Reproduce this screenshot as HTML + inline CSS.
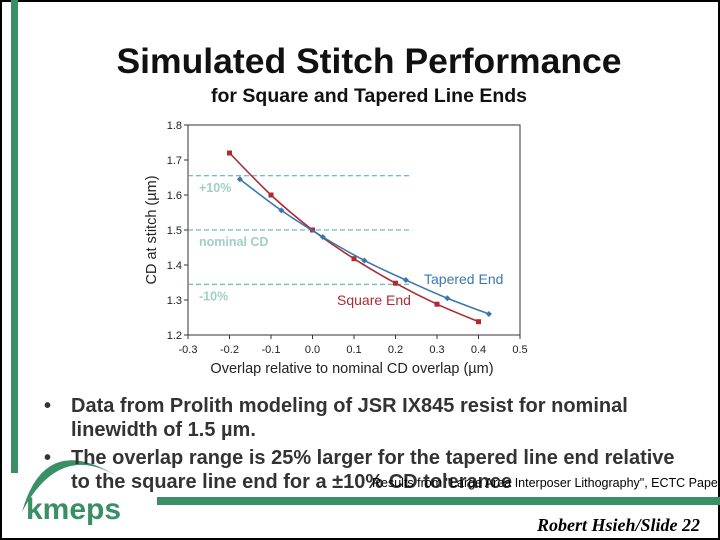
<!DOCTYPE html>
<html><head><meta charset="utf-8"><style>
body{margin:0;width:720px;height:540px;overflow:hidden;background:#fff;font-family:"Liberation Sans",sans-serif}
#slide{position:absolute;left:0;top:0;width:716px;height:536px;border:2px solid #000;background:#fff}
.t{position:absolute;white-space:nowrap;color:#111}
.b{position:absolute;font-size:20px;font-weight:bold;color:#333;white-space:nowrap;line-height:24px}
</style></head><body>
<div id="slide"></div>
<div style="position:absolute;left:11px;top:0;width:7px;height:473px;background:#3a8f64"></div>
<div style="position:absolute;left:157px;top:497px;width:563px;height:8px;background:#3a8f64"></div>
<div class="t" style="left:0;width:738px;text-align:center;top:41px;font-size:35.5px;font-weight:bold">Simulated Stitch Performance</div>
<div class="t" style="left:0;width:738px;text-align:center;top:85px;font-size:19.5px;font-weight:bold">for Square and Tapered Line Ends</div>
<svg width="720" height="540" style="position:absolute;left:0;top:0">
<g id="g"></g>
<path d="M22,512 Q45,430 120,478 Q60,440 22,512Z" fill="#3a8f64"/>
</svg>
<div class="b" style="left:44px;top:394px">•</div>
<div class="b" style="left:71px;top:394px">Data from Prolith modeling of JSR IX845 resist for nominal<br>linewidth of 1.5 µm.</div>
<div class="b" style="left:44px;top:446px">•</div>
<div class="b" style="left:71px;top:446px">The overlap range is 25% larger for the tapered line end relative<br>to the square line end for a ±10% CD tolerance</div>
<div class="t" style="left:372px;top:476px;font-size:12.5px;color:#000">Results from "Large Area Interposer Lithography", ECTC Paper</div>
<div class="t" style="left:26px;top:493px;font-size:30px;font-weight:bold;color:#3a8f64">kmeps</div>
<div class="t" style="left:537px;top:515px;font-size:18px;font-weight:bold;font-style:italic;font-family:'Liberation Serif',serif;color:#000">Robert Hsieh/Slide 22</div>
<script>
const xTicks=[-0.3,-0.2,-0.1,0.0,0.1,0.2,0.3,0.4,0.5];
const xTickLabels=["-0.3","-0.2","-0.1","0.0","0.1","0.2","0.3","0.4","0.5"];
const yTicks=[1.2,1.3,1.4,1.5,1.6,1.7,1.8];
const yTickLabels=["1.2","1.3","1.4","1.5","1.6","1.7","1.8"];
const squareX=[-0.2,-0.1,0.0,0.1,0.2,0.3,0.4];
const squareY=[1.72,1.60,1.50,1.418,1.348,1.288,1.238];
const taperedX=[-0.175,-0.075,0.025,0.125,0.225,0.325,0.425];
const taperedY=[1.645,1.556,1.48,1.413,1.357,1.305,1.26];
const refLevels=[1.655,1.5,1.345];
const refLabels=["+10%","nominal CD","-10%"];
const NS="http://www.w3.org/2000/svg";
const g=document.getElementById('g');
const sx=v=>188+(v+0.3)*415, sy=v=>335-(v-1.2)*350;
function mk(t,a,txt){const e=document.createElementNS(NS,t);for(const k in a)e.setAttribute(k,a[k]);if(txt!==undefined)e.textContent=txt;g.appendChild(e);return e;}
let e=mk('rect',{x:188,y:125,width:332,height:210,fill:'none',stroke:'#333','stroke-width':1});

xTicks.forEach((v,i)=>{mk('line',{x1:sx(v),x2:sx(v),y1:335,y2:339,stroke:'#333'});
 e=mk('text',{x:sx(v),y:353,'text-anchor':'middle','font-size':11,fill:'#222'},xTickLabels[i]);
 });
yTicks.forEach((v,i)=>{mk('line',{x1:184,x2:188,y1:sy(v),y2:sy(v),stroke:'#333'});
 e=mk('text',{x:182,y:sy(v)+4,'text-anchor':'end','font-size':11,fill:'#222'},yTickLabels[i]);
 });
e=mk('text',{x:352,y:373,'text-anchor':'middle','font-size':14.5,fill:'#222'},'Overlap relative to nominal CD overlap (µm)');

e=mk('text',{x:0,y:0,'text-anchor':'middle','font-size':14.5,fill:'#222',transform:'translate(156,230) rotate(-90)'},'CD at stitch (µm)');

refLevels.forEach((v,i)=>{e=mk('line',{x1:188,x2:sx(0.24),y1:sy(v),y2:sy(v),stroke:'#4aa8a8','stroke-dasharray':'5,3'});
 
 e=mk('text',{x:199,y:sy(v)+16,'font-size':12.5,fill:'#9fd0c4','font-weight':'bold'},refLabels[i]);
 });
function series(X,Y,col,name,sq){const P=X.map((x,i)=>[sx(x),sy(Y[i])]);
 let d='M'+P[0][0]+','+P[0][1];
 for(let i=0;i<P.length-1;i++){const p0=P[Math.max(0,i-1)],p1=P[i],p2=P[i+1],p3=P[Math.min(P.length-1,i+2)];
  d+=` C${p1[0]+(p2[0]-p0[0])/6},${p1[1]+(p2[1]-p0[1])/6} ${p2[0]-(p3[0]-p1[0])/6},${p2[1]-(p3[1]-p1[1])/6} ${p2[0]},${p2[1]}`;}
 e=mk('path',{d:d,fill:'none',stroke:col,'stroke-width':1.6});
 P.forEach(([cx,cy])=>{
  if(sq)e=mk('rect',{x:cx-2.5,y:cy-2.5,width:5,height:5,fill:col});
  else e=mk('path',{d:`M${cx},${cy-3}L${cx+3},${cy}L${cx},${cy+3}L${cx-3},${cy}Z`,fill:col});
  });}
series(squareX,squareY,'#b02a30','square-end',true);
series(taperedX,taperedY,'#3878b0','tapered-end',false);
e=mk('text',{x:424,y:284,'font-size':14,fill:'#3878b0'},'Tapered End');
e=mk('text',{x:337,y:305,'font-size':14,fill:'#b02a30'},'Square End');
</script>
</body></html>
